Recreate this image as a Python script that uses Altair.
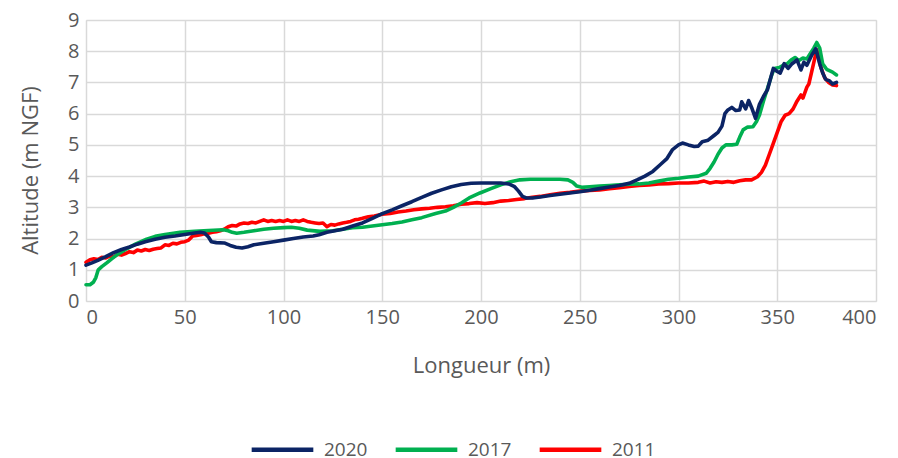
import altair as alt
import pandas as pd

# ---- data ----
x_2020 = [0, 3, 6, 10, 14, 18, 22, 26, 30, 35, 40, 45, 50, 55, 58, 60, 62, 63.5, 66, 70, 73, 76, 79, 82, 85,
          90, 95, 100, 105, 110, 115, 118, 122, 126, 130, 135, 140, 145, 150, 155, 160, 165, 170, 175, 180,
          185, 190, 195, 200, 205, 210, 214, 217, 219, 221, 223, 226, 230, 235, 240, 245, 250, 255, 260, 265,
          270, 275, 279, 283, 287, 291, 294, 297, 300, 302, 305, 308, 310, 312, 315, 318, 320, 322, 323.5,
          325, 327, 329, 331, 332, 334, 335.5, 337, 339, 341, 343, 345, 346.5, 348, 350, 351.5, 353.5, 355.5,
          357.5, 360, 362, 363.5, 365, 367.5, 369.5, 371.5, 373, 374.5, 376.5, 378, 380]
y_2020 = [1.15, 1.22, 1.3, 1.42, 1.55, 1.65, 1.73, 1.82, 1.9, 1.98, 2.04, 2.08, 2.13, 2.18, 2.2, 2.18, 2.05, 1.9,
          1.87, 1.86, 1.78, 1.72, 1.7, 1.74, 1.8, 1.85, 1.9, 1.95, 2.0, 2.05, 2.08, 2.12, 2.2, 2.25, 2.3, 2.4,
          2.5, 2.65, 2.8, 2.92, 3.05, 3.18, 3.32, 3.45, 3.56, 3.66, 3.73, 3.77, 3.78, 3.78, 3.78, 3.75, 3.66,
          3.52, 3.35, 3.3, 3.3, 3.33, 3.38, 3.42, 3.46, 3.5, 3.55, 3.6, 3.65, 3.7, 3.77, 3.88, 4.0, 4.15, 4.38,
          4.55, 4.85, 5.0, 5.06, 5.0, 4.95, 4.96, 5.1, 5.15, 5.3, 5.4, 5.6, 6.0, 6.12, 6.2, 6.1, 6.12, 6.38,
          6.15, 6.42, 6.2, 5.85, 6.3, 6.55, 6.76, 7.1, 7.45, 7.35, 7.3, 7.6, 7.45, 7.6, 7.72, 7.4, 7.65, 7.55,
          7.88, 8.08, 7.6, 7.3, 7.1, 7.05, 6.95, 7.0]

x_2017 = [0, 2, 3.7, 5, 6.2, 8, 10.5, 13, 15.5, 20, 25, 30.7, 35, 40, 47.6, 55, 62, 69.5, 72, 74, 76.3, 80, 85,
          90, 95, 100, 104, 108, 112, 118.5, 125, 130, 135, 140, 145, 150, 155, 160, 165, 170, 177, 182, 186,
          190, 194, 199.5, 205, 210, 215, 219.7, 225, 230, 235, 240, 244, 246.5, 248.5, 251, 255, 260, 265,
          270, 275, 280, 285, 290, 295, 300, 305, 310, 314, 316, 318, 320, 322, 324, 327, 329.5, 331, 332.7,
          335, 337.7, 339.5, 341, 343, 345, 347, 348.5, 351, 353, 355, 357, 359, 361, 363, 365, 367, 368.5,
          370, 371.5, 373, 375, 378, 380]
y_2017 = [0.52, 0.52, 0.6, 0.75, 1.0, 1.1, 1.22, 1.35, 1.47, 1.65, 1.82, 1.98, 2.07, 2.13, 2.2, 2.23, 2.26,
          2.28, 2.25, 2.2, 2.17, 2.2, 2.25, 2.3, 2.33, 2.35, 2.36, 2.33, 2.27, 2.23, 2.25, 2.3, 2.35, 2.36,
          2.4, 2.44, 2.48, 2.53, 2.6, 2.67, 2.8, 2.88, 3.0, 3.14, 3.3, 3.46, 3.6, 3.72, 3.82, 3.88, 3.9, 3.9,
          3.9, 3.9, 3.88, 3.8, 3.68, 3.64, 3.66, 3.68, 3.7, 3.72, 3.74, 3.75, 3.78, 3.84, 3.9, 3.93, 3.97, 4.0,
          4.09, 4.25, 4.45, 4.7, 4.9, 5.0, 5.0, 5.02, 5.25, 5.48, 5.57, 5.58, 5.75, 5.96, 6.4, 6.8, 7.2, 7.45,
          7.48, 7.55, 7.6, 7.72, 7.8, 7.7, 7.78, 7.75, 7.95, 8.1, 8.28, 8.1, 7.6, 7.42, 7.33, 7.24]

x_2011 = [0, 2, 4, 6, 8, 10, 12, 14, 16, 18, 20, 22, 24, 26, 28, 30, 32, 34, 36, 38, 40, 42, 44, 46, 48, 50,
          52, 54, 56, 58, 60, 62, 64, 66, 68, 70, 72, 74, 76, 78, 80, 82, 84, 86, 88, 90, 92, 94, 96, 98, 100,
          102, 104, 106, 108, 110, 112, 114, 116, 118, 120, 122, 124, 126, 128, 130, 132, 134, 136, 138, 140,
          143, 146, 150, 154, 158, 162, 166, 170, 174, 178, 182, 186, 190, 194, 198, 202, 206, 210, 214, 218,
          222, 226, 230, 235, 240, 245, 250, 255, 260, 265, 270, 275, 280, 285, 290, 295, 300, 305, 310, 313,
          316, 319, 322, 325, 328, 331, 334, 337, 340, 342, 344, 346, 348, 350, 352, 354, 356, 358, 360, 362,
          363, 365, 366, 368, 370, 372, 374, 376, 378, 380]
y_2011 = [1.24, 1.32, 1.35, 1.33, 1.4, 1.38, 1.44, 1.42, 1.5, 1.47, 1.52, 1.58, 1.55, 1.63, 1.6, 1.65, 1.62,
          1.66, 1.68, 1.7, 1.8, 1.78, 1.85, 1.83, 1.88, 1.9, 1.95, 2.08, 2.1, 2.12, 2.15, 2.17, 2.2, 2.22, 2.25,
          2.3, 2.38, 2.42, 2.4, 2.47, 2.5, 2.48, 2.52, 2.5, 2.55, 2.6, 2.55, 2.58, 2.55, 2.58, 2.55, 2.6, 2.55,
          2.58, 2.55, 2.6, 2.55, 2.52, 2.5, 2.48, 2.5, 2.38, 2.45, 2.43, 2.47, 2.5, 2.52, 2.55, 2.6, 2.62, 2.65,
          2.7, 2.72, 2.78, 2.8, 2.85, 2.88, 2.92, 2.95, 2.97, 3.0, 3.02, 3.05, 3.1, 3.12, 3.15, 3.12, 3.15, 3.2,
          3.22, 3.25, 3.28, 3.32, 3.35, 3.4, 3.45, 3.48, 3.52, 3.54, 3.56, 3.6, 3.63, 3.67, 3.7, 3.72, 3.75,
          3.76, 3.78, 3.78, 3.8, 3.84, 3.78, 3.82, 3.8, 3.83, 3.8, 3.85, 3.88, 3.88, 3.98, 4.12, 4.35, 4.7, 5.05,
          5.4, 5.75, 5.95, 6.0, 6.15, 6.4, 6.6, 6.5, 6.85, 6.95, 7.5, 8.05, 7.5, 7.15, 7.0, 6.92, 6.9]

series_names = ["2020", "2017", "2011"]
series_colors = ["#0B2465", "#00B050", "#FF0000"]
x_ticks = [0, 50, 100, 150, 200, 250, 300, 350, 400]
y_ticks = [0, 1, 2, 3, 4, 5, 6, 7, 8, 9]

frames = []
for name, xs, ys in [("2020", x_2020, y_2020), ("2017", x_2017, y_2017), ("2011", x_2011, y_2011)]:
    frames.append(pd.DataFrame({"Longueur": xs, "Altitude": ys, "Série": name, "order": range(len(xs))}))
df = pd.concat(frames, ignore_index=True)

FONT = "Open Sans"
GREY = "#595959"

color = alt.Color(
    "Série:N",
    scale=alt.Scale(domain=series_names, range=series_colors),
    legend=alt.Legend(
        title=None, orient="none", direction="horizontal",
        legendX=163, legendY=396,
        symbolType="stroke", symbolSize=3800, symbolStrokeWidth=4.5,
        labelFont=FONT, labelFontSize=19, labelColor=GREY, labelOffset=8,
        columnPadding=18, symbolOpacity=1,
    ),
)

x_enc = alt.X(
    "Longueur:Q",
    scale=alt.Scale(domain=[0, 400], nice=False),
    axis=alt.Axis(
        values=x_ticks, title="Longueur (m)", domain=False, ticks=False,
        grid=True, gridColor="#D9D9D9", gridWidth=1.5,
        labelFont=FONT, labelFontSize=20, labelColor=GREY, labelPadding=6,
        titleFont=FONT, titleFontSize=22, titleColor=GREY, titleFontWeight="normal",
        titleY=71, titleBaseline="alphabetic",
    ),
)
y_enc = alt.Y(
    "Altitude:Q",
    scale=alt.Scale(domain=[0, 9], nice=False),
    axis=alt.Axis(
        values=y_ticks, title="Altitude (m NGF)", domain=False, ticks=False,
        grid=True, gridColor="#D9D9D9", gridWidth=1.5,
        labelFont=FONT, labelFontSize=20, labelColor=GREY, labelPadding=7,
        titleFont=FONT, titleFontSize=22, titleColor=GREY, titleFontWeight="normal",
        titleX=-49, titleY=150, titleAngle=270, titleBaseline="alphabetic", titleAlign="center",
    ),
)

layers = []
for name in ["2011", "2017", "2020"]:
    layers.append(
        alt.Chart(df)
        .transform_filter(alt.datum["Série"] == name)
        .mark_line(strokeWidth=3.6, strokeCap="round", strokeJoin="round")
        .encode(x=x_enc, y=y_enc, color=color, order="order:Q")
    )

chart = (
    alt.layer(*layers)
    .properties(
        width=790, height=281,
        autosize=alt.AutoSizeParams(type="none"),
        padding={"left": 78, "top": 12, "right": 14, "bottom": 159},
    )
    .configure_view(stroke=None)
    .configure(background="white")
)

chart.save("out.html", embed_options={"renderer": "svg", "actions": False})
